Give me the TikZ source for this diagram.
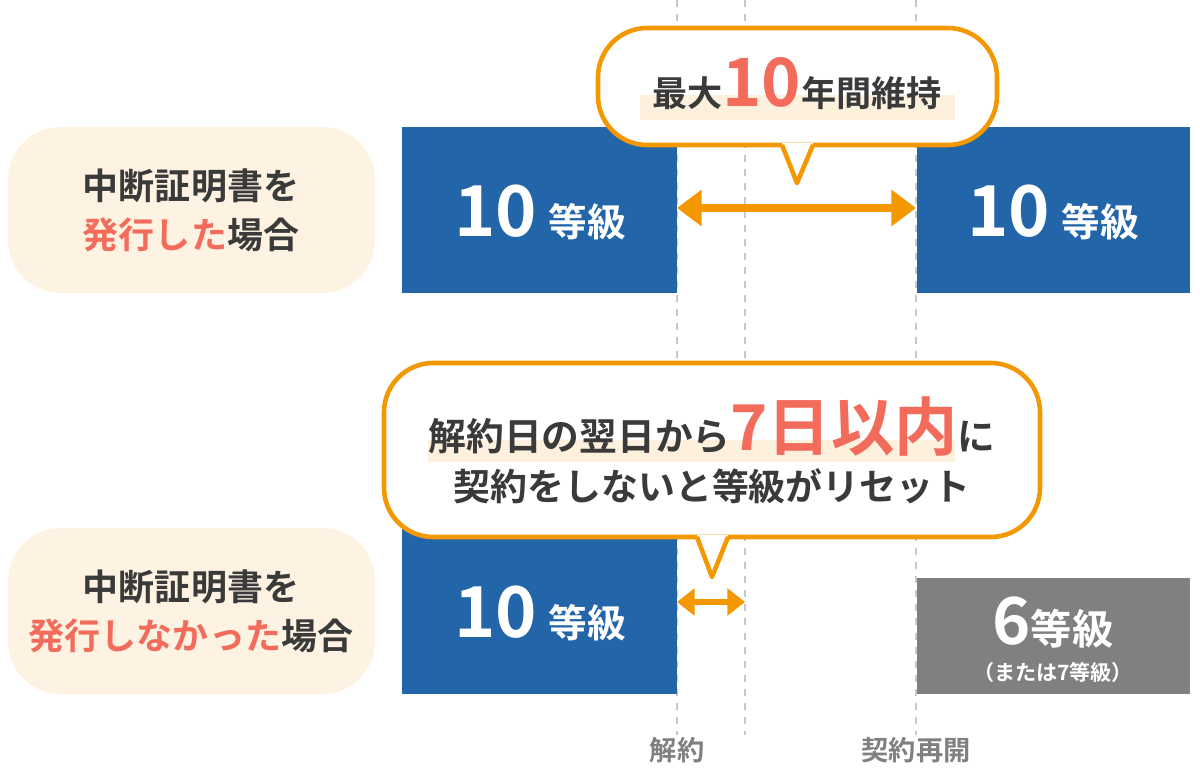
\documentclass[tikz,border=0pt]{standalone}
\usepackage{fontspec}
\setmainfont{Noto Sans CJK JP}[BoldFont={Noto Sans CJK JP Bold}]
\usetikzlibrary{arrows.meta}
\definecolor{cream}{HTML}{FEF3E2}
\definecolor{dark}{HTML}{3A3A3A}
\definecolor{salmon}{HTML}{F26B5B}
\definecolor{blu}{HTML}{2365A9}
\definecolor{gry}{HTML}{808080}
\definecolor{orng}{HTML}{F39800}
\definecolor{band}{HTML}{FDF0DC}
\definecolor{dashc}{HTML}{C8C8C8}
\tikzset{
 pill/.style={fill=cream,rounded corners=30},
 blk/.style={fill=blu},
 vline/.style={dashc,line width=1.5pt,dash pattern=on 4pt off 4pt},
 callout/.style={draw=orng,line width=2.6pt,fill=white,rounded corners=28},
 tail/.style={draw=orng,line width=2.6pt,line join=round},
 arr/.style={orng,line width=4pt,{Triangle[length=14pt,width=20pt]}-{Triangle[length=14pt,width=20pt]}},
 lbl/.style={font=\bfseries\fontsize{20.5}{28}\selectfont,text=dark,align=center},
}
\begin{document}
\begin{tikzpicture}[x=0.02cm,y=-0.02cm]
\useasboundingbox (0,0) rectangle (1200,771);
% dashed lines
\foreach \n/\x in {d1/677,d2/745,d3/916}{
 \coordinate (\n t) at (\x,0); \coordinate (\n b) at (\x,735);
 \draw[vline] (\n t) -- (\n b);}
% left pills
\fill[pill] (8,127) rectangle (375,293);
\node[lbl] (p1) at (191,210) {中断証明書を\\\textcolor{salmon}{発行した}場合};
\fill[pill] (8,528) rectangle (375,694);
\node[lbl] (p2) at (191,611) {中断証明書を\\\textcolor{salmon}{発行しなかった}場合};
% blocks
\fill[blk] (402,127) rectangle (677,293);
\node[white,font=\bfseries] (b1) at (540,212) {\fontsize{40}{40}\selectfont 10\,\fontsize{22}{22}\selectfont 等級};
\fill[blk] (917,127) rectangle (1190,293);
\node[white,font=\bfseries] (b2) at (1053,212) {\fontsize{40}{40}\selectfont 10\,\fontsize{22}{22}\selectfont 等級};
\fill[blk] (402,528) rectangle (677,694);
\node[white,font=\bfseries] (b3) at (540,613) {\fontsize{40}{40}\selectfont 10\,\fontsize{22}{22}\selectfont 等級};
\fill[gry] (917,578) rectangle (1190,694);
\node[white,font=\bfseries] (b4) at (1053,622) {\fontsize{37}{37}\selectfont 6\fontsize{23.5}{23.5}\selectfont 等級};
\node[white,font=\bfseries\fontsize{12}{12}\selectfont] (b5) at (1053,672) {（または7等級）};
% arrows
\coordinate (a1) at (677,208); \coordinate (a2) at (916,208);
\draw[arr] (a1) -- (a2);
\coordinate (a3) at (677,602); \coordinate (a4) at (745,602);
\draw[orng,line width=3pt,{Triangle[length=10pt,width=15pt]}-{Triangle[length=10pt,width=15pt]}] (a3) -- (a4);
% top callout
\draw[callout] (598,28) rectangle (997,145);
\coordinate (t1) at (797,183);
\fill[white] (782,143) -- (t1) -- (813,143) -- cycle;
\draw[tail] (782,145) -- (t1) -- (813,145);
\fill[band] (640,95) rectangle (955,120);
\node[font=\bfseries,text=dark] (c1) at (797,84) {\fontsize{20}{20}\selectfont 最大\textcolor{salmon}{\fontsize{38}{38}\selectfont 10}年間維持};
% bottom callout
\draw[callout] (384,363) rectangle (1040,537);
\coordinate (t2) at (712,577);
\fill[white] (697,535) -- (t2) -- (728,535) -- cycle;
\draw[tail] (697,537) -- (t2) -- (728,537);
\fill[band] (428,440) rectangle (955,462);
\node[font=\bfseries,text=dark] (c2) at (712,427) {\fontsize{21.5}{21.5}\selectfont 解約日の翌日から\textcolor{salmon}{\fontsize{36}{36}\selectfont 7日以内}に};
\node[font=\bfseries\fontsize{21}{21}\selectfont,text=dark] (c3) at (712,486) {契約をしないと等級がリセット};
% bottom labels
\node[font=\bfseries\fontsize{15.5}{15.5}\selectfont,text=gry] (l1) at (677,750) {解約};
\node[font=\bfseries\fontsize{15.5}{15.5}\selectfont,text=gry] (l2) at (916,750) {契約再開};
\end{tikzpicture}
\end{document}
